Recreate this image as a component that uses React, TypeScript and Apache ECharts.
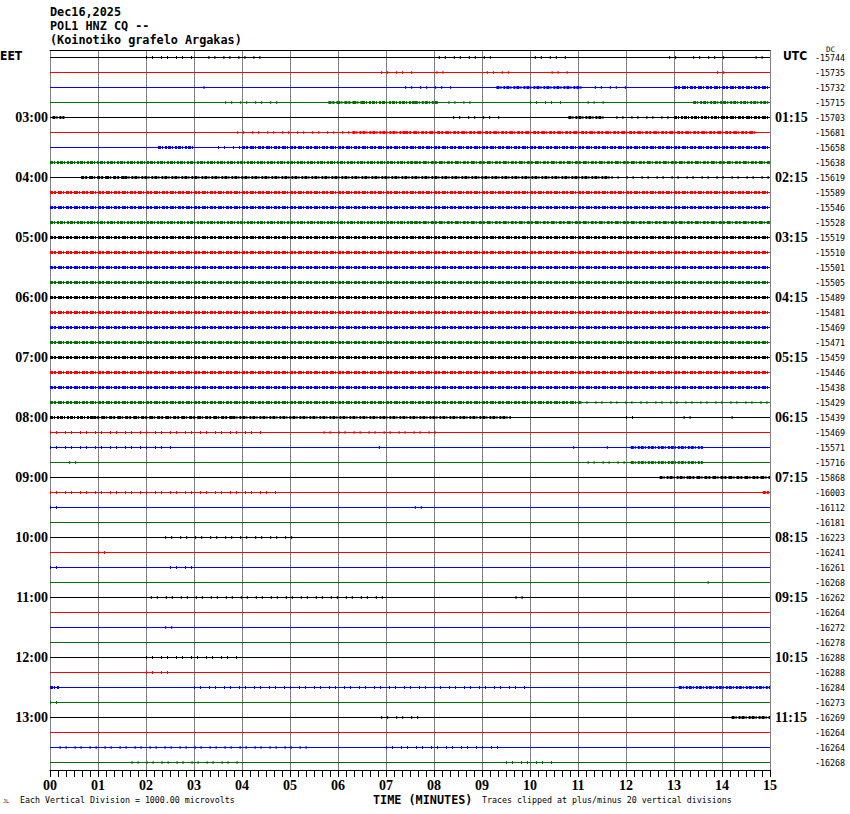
import React, { useEffect, useRef } from "react";
import * as echarts from "echarts";

// ---- data ----
const headerLines = ["Dec16,2025", "POL1 HNZ CQ --", "(Koinotiko grafelo Argakas)"];
const minuteLabels = ["00", "01", "02", "03", "04", "05", "06", "07", "08", "09", "10", "11", "12", "13", "14", "15"];
const eetHours = ["03:00", "04:00", "05:00", "06:00", "07:00", "08:00", "09:00", "10:00", "11:00", "12:00", "13:00"];
const utcHours = ["01:15", "02:15", "03:15", "04:15", "05:15", "06:15", "07:15", "08:15", "09:15", "10:15", "11:15"];
const dcValues = [
  -15744, -15735, -15732, -15715, -15703, -15681, -15658, -15638,
  -15619, -15589, -15546, -15528, -15519, -15510, -15501, -15505,
  -15489, -15481, -15469, -15471, -15459, -15446, -15438, -15429,
  -15439, -15469, -15571, -15716, -15868, -16003, -16112, -16181,
  -16223, -16241, -16261, -16268, -16262, -16264, -16272, -16278,
  -16288, -16288, -16284, -16273, -16269, -16264, -16264, -16268,
];
const traceColors = ["#000000", "#ff0000", "#0000ff", "#007000"];
// [row, start minute, end minute, activity level 1..3]
const activity: number[][] = [
  [0, 2.0, 3.0, 1], [0, 3.3, 4.4, 1], [0, 8.1, 9.3, 1], [0, 10.1, 10.8, 1], [0, 12.9, 13.1, 1], [0, 13.4, 14.1, 1], [0, 14.7, 15, 1],
  [1, 6.9, 7.65, 1], [1, 8.05, 8.3, 1], [1, 9.1, 9.6, 1], [1, 10.45, 10.8, 1], [1, 13.9, 14.1, 1],
  [2, 3.2, 3.3, 1], [2, 7.4, 8.4, 1], [2, 9.3, 11.1, 2], [2, 11.35, 12, 1], [2, 13.0, 15, 3],
  [3, 3.65, 4.9, 1], [3, 5.8, 6.5, 3], [3, 6.5, 7.6, 2], [3, 7.6, 8.1, 2], [3, 8.3, 8.8, 1], [3, 10.0, 10.7, 1], [3, 11.2, 11.6, 1], [3, 13.4, 15, 2],
  [4, 0.05, 0.3, 2], [4, 8.4, 9.4, 1], [4, 10.8, 11.55, 2], [4, 11.8, 12.9, 1], [4, 13.0, 14.0, 2], [4, 14.0, 15, 3],
  [5, 3.9, 6.3, 1], [5, 6.3, 7.4, 2], [5, 7.4, 14.7, 3],
  [6, 2.25, 3.0, 2], [6, 3.5, 4.0, 1], [6, 4.0, 15, 3],
  [7, 0, 7.6, 2], [7, 7.6, 15, 3],
  [8, 0.65, 1.55, 3], [8, 1.55, 11.7, 2], [8, 11.7, 15, 1],
  [9, 0, 15, 3], [10, 0, 15, 3], [11, 0, 7.6, 2], [11, 7.6, 15, 3],
  [12, 0, 15, 3], [13, 0, 15, 3], [14, 0, 15, 3], [15, 0, 15, 3],
  [16, 0, 15, 3], [17, 0, 15, 3], [18, 0, 15, 3], [19, 0, 15, 3],
  [20, 0, 15, 3], [21, 0, 15, 3], [22, 0, 15, 3],
  [23, 0, 11.05, 3], [23, 11.05, 15, 1],
  [24, 0, 0.9, 2], [24, 0.9, 3.8, 3], [24, 3.8, 9.6, 2], [24, 12.0, 12.2, 1], [24, 13.2, 13.4, 1], [24, 14.2, 14.3, 1],
  [25, 0, 4.5, 1], [25, 5.7, 8.1, 1],
  [26, 0, 2.6, 1], [26, 6.85, 6.95, 1], [26, 10.9, 11.0, 1], [26, 11.6, 11.7, 1], [26, 12.1, 13.6, 2],
  [27, 0.4, 0.6, 1], [27, 11.2, 12.1, 1], [27, 12.1, 13.6, 2],
  [28, 12.7, 13.3, 2], [28, 13.3, 15, 3],
  [29, 0, 4.75, 1], [29, 14.85, 15, 3],
  [30, 0, 0.2, 1], [30, 7.6, 7.8, 1],
  [32, 2.4, 5.2, 1], [33, 1.0, 1.2, 1],
  [34, 0, 0.2, 1], [34, 2.5, 3.1, 1], [35, 13.7, 13.8, 1],
  [36, 2.1, 7.1, 1], [36, 9.7, 9.9, 1], [38, 2.4, 2.6, 1],
  [40, 2.0, 4.0, 1], [41, 2.0, 2.6, 1],
  [42, 0, 0.2, 2], [42, 3.0, 10.0, 1], [42, 13.1, 15, 2], [43, 0, 0.2, 1],
  [44, 6.9, 7.7, 1], [44, 14.2, 15, 2],
  [46, 0.2, 5.5, 1], [46, 7.0, 9.5, 1], [47, 1.7, 4.0, 1], [47, 9.5, 10.5, 1],
];

const ROWS = dcValues.length;
const rowIdx = dcValues.map((_, i) => i);
const leftCats = rowIdx.map((i) => (i % 4 === 0 && i > 0 ? eetHours[i / 4 - 1] : ""));
const rightCats = rowIdx.map((i) => (i % 4 === 0 && i > 0 ? utcHours[i / 4 - 1] : ""));
const dcCats = dcValues.map((v) => String(v));
const baseLines = rowIdx.map((i) => [i, 0, 15, 0]);

const MONO = "'DejaVu Sans Mono', 'Liberation Mono', monospace";
const SERIF = "'Liberation Serif', 'DejaVu Serif', serif";

const dashFor: Record<number, number[] | null> = {
  0: null,
  1: [1, 5, 1, 8],
  2: [3, 1, 1, 2, 2, 1],
  3: [3, 1, 2, 2, 4, 1, 1, 2],
};
const widthFor: Record<number, number> = { 0: 1, 1: 3, 2: 3, 3: 3 };

// rows are plotted at row + 1 so that the value axis never contains zero
function renderSeg(params: any, api: any) {
  const row = api.value(0);
  const lvl = api.value(3);
  const p0 = api.coord([api.value(1), row + 1]);
  const p1 = api.coord([api.value(2), row + 1]);
  const dash = dashFor[lvl];
  return {
    type: "line",
    shape: { x1: p0[0], y1: p0[1], x2: p1[0], y2: p1[1] },
    style: {
      stroke: traceColors[row % 4],
      lineWidth: widthFor[lvl],
      lineDash: dash || undefined,
      lineCap: "butt",
    },
  };
}

export default function App() {
  const ref = useRef<HTMLDivElement>(null);
  useEffect(() => {
    if (!ref.current) return;
    const chart = echarts.init(ref.current, undefined, { renderer: "svg" });
    const catAxisBase = {
      type: "category" as const,
      inverse: true,
      axisLine: { show: false },
      axisTick: { show: false },
      splitLine: { show: false },
    };
    chart.setOption({
      animation: false,
      backgroundColor: "#ffffff",
      grid: { left: 50, right: 80, top: 50, bottom: 44, containLabel: false },
      xAxis: [
        {
          type: "value",
          min: 0,
          max: 15,
          interval: 1,
          position: "bottom",
          axisLine: { show: true, onZero: false, lineStyle: { color: "#000", width: 1 } },
          axisTick: { show: true, length: 7, lineStyle: { color: "#000", width: 1 } },
          minorTick: { show: true, splitNumber: 6, length: 7, lineStyle: { color: "#000", width: 1 } },
          splitLine: { show: true, lineStyle: { color: "#808080", width: 1 } },
          axisLabel: {
            margin: 8,
            color: "#000",
            fontFamily: SERIF,
            fontWeight: "bold",
            fontSize: 14,
            formatter: (v: number) => minuteLabels[Math.round(v)] ?? "",
          },
        },
        {
          type: "value",
          min: 0,
          max: 15,
          interval: 1,
          position: "top",
          axisLine: { show: true, onZero: false, lineStyle: { color: "#000", width: 1 } },
          axisTick: { show: false },
          minorTick: { show: false },
          axisLabel: { show: false },
          splitLine: { show: false },
        },
      ],
      yAxis: [
        {
          type: "value",
          min: 0.5,
          max: ROWS + 0.5,
          inverse: true,
          show: false,
        },
        {
          ...catAxisBase,
          position: "left",
          data: leftCats,
          axisLabel: {
            interval: 0,
            margin: 2,
            color: "#000",
            fontFamily: SERIF,
            fontWeight: "bold",
            fontSize: 14,
          },
        },
        {
          ...catAxisBase,
          position: "right",
          data: rightCats,
          axisLabel: {
            interval: 0,
            margin: 5,
            color: "#000",
            fontFamily: SERIF,
            fontWeight: "bold",
            fontSize: 14,
          },
        },
        {
          ...catAxisBase,
          position: "right",
          offset: 45,
          data: dcCats,
          axisLabel: {
            interval: 0,
            margin: 0,
            color: "#000",
            fontFamily: MONO,
            fontSize: 8.3,
          },
        },
      ],
      series: [
        {
          name: "base",
          type: "custom",
          xAxisIndex: 0,
          yAxisIndex: 0,
          dimensions: ["row", "start", "end", "level"],
          encode: { x: [1, 2], y: 0 },
          renderItem: renderSeg,
          data: baseLines,
          silent: true,
        },
        {
          name: "activity",
          type: "custom",
          xAxisIndex: 0,
          yAxisIndex: 0,
          dimensions: ["row", "start", "end", "level"],
          encode: { x: [1, 2], y: 0 },
          renderItem: renderSeg,
          data: activity,
          silent: true,
        },
      ],
      graphic: [
        ...headerLines.map((t, i) => ({
          type: "text",
          left: 50,
          top: 6 + i * 14,
          style: { text: t, fill: "#000", font: `bold 11.8px ${MONO}` },
        })),
        {
          type: "text",
          left: 0,
          top: 50,
          style: { text: "EET", fill: "#000", font: "bold 12px 'DejaVu Sans Condensed', 'DejaVu Sans', sans-serif" },
        },
        {
          type: "text",
          left: 783,
          top: 50,
          style: { text: "UTC", fill: "#000", font: "bold 12px 'DejaVu Sans Condensed', 'DejaVu Sans', sans-serif" },
        },
        {
          type: "text",
          left: 826,
          top: 45,
          style: { text: "DC", fill: "#000", font: `7.5px ${MONO}` },
        },
        {
          type: "text",
          left: 3,
          top: 798,
          style: { text: "JL", fill: "#000", font: `5px ${MONO}` },
        },
        {
          type: "text",
          left: 20,
          top: 796,
          style: { text: "Each Vertical Division = 1000.00 microvolts", fill: "#000", font: `8.3px ${MONO}` },
        },
        {
          type: "text",
          left: 373,
          top: 794,
          style: { text: "TIME (MINUTES)", fill: "#000", font: `bold 11.8px ${MONO}` },
        },
        {
          type: "text",
          left: 482,
          top: 796,
          style: { text: "Traces clipped at plus/minus 20 vertical divisions", fill: "#000", font: `8.3px ${MONO}` },
        },
      ],
    });
    return () => chart.dispose();
  }, []);
  return (
    <div
      ref={ref}
      style={{ position: "absolute", left: 0, top: 0, width: 850, height: 814 }}
    />
  );
}
